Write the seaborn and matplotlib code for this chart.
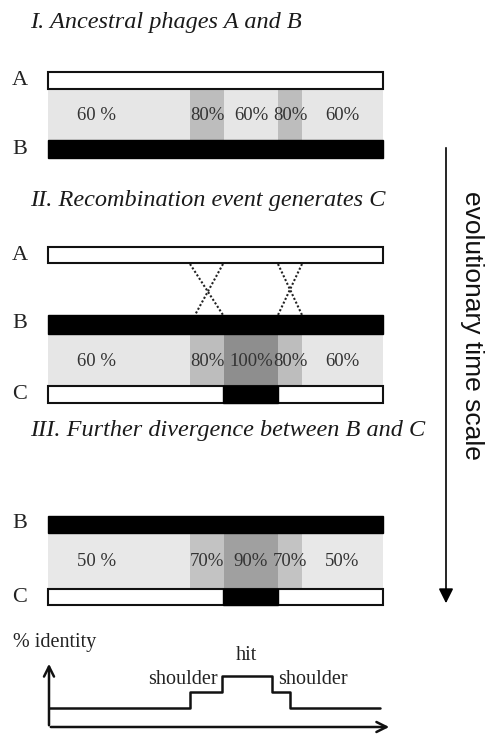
import matplotlib
matplotlib.use("Agg")
import matplotlib.pyplot as plt
import pandas as pd
import seaborn as sns

# genome segments along the phage (same breakpoints in every panel)
seg_edges = [48, 190, 224, 278, 302, 383]
ident_I = [60, 80, 60, 80, 60]
ident_II = [60, 80, 100, 80, 60]
ident_III = [50, 70, 90, 70, 50]
# region of C that came from B by recombination
c_block = [223, 278]
# crossover points (A side -> B side)
cross_top = [190, 223, 278, 302]
cross_bottom = [223, 195, 302, 278]

# % identity -> grey shade
shade = {50: "#e8e8e8", 60: "#e6e6e6", 70: "#c3c3c3", 80: "#bdbdbd",
         90: "#a0a0a0", 100: "#8e8e8e"}

# schematic identity profile at the bottom
profile_edges = [49, 190, 222, 272, 290, 380]
profile_level = [0, 1, 2, 1, 0]
profile_names = ["shoulder", "hit", "shoulder"]

titles = ["I. Ancestral phages A and B",
          "II. Recombination event generates C",
          "III. Further divergence between B and C"]

sns.set_theme(style="white")
plt.rcParams["font.family"] = ["Liberation Serif", "DejaVu Serif"]

fig = plt.figure(figsize=(4.88, 7.35), dpi=100)
ax = fig.add_axes([0, 0, 1, 1])
ax.set_xlim(0, 488)
ax.set_ylim(735, 0)
ax.axis("off")

x0, x1 = seg_edges[0], seg_edges[-1]
serif_it = dict(family=["Liberation Serif", "DejaVu Serif"], style="italic", fontsize=17.5, color="#1a1a1a")
lab_kw = dict(fontsize=16, ha="center", va="center", color="#222222")
pct_kw = dict(fontsize=13.5, ha="center", va="center", color="#333333")
note_kw = dict(fontsize=14.5, va="center", color="#222222")


def genome(top, bottom, kind, block=None):
    h = bottom - top
    y = (top + bottom) / 2
    if kind == "white":
        ax.barh(y, x1 - x0, left=x0, height=h, color="white", edgecolor="#111111", linewidth=1.5)
    else:
        ax.barh(y, x1 - x0, left=x0, height=h, color="black", edgecolor="black", linewidth=1.0)
    if block is not None:
        ax.barh(y, block[1] - block[0], left=block[0], height=h, color="black", edgecolor="black", linewidth=1.0)


def band(top, bottom, idents):
    y = (top + bottom) / 2
    for i, v in enumerate(idents):
        l, r = seg_edges[i], seg_edges[i + 1]
        ax.barh(y, r - l, left=l, height=bottom - top, color=shade[v], linewidth=0)
        if i == 0:
            ax.text(l + (r - l) * 0.34, y + 1, f"{v} %", **pct_kw)
        else:
            ax.text((l + r) / 2, y + 1, f"{v}%", **pct_kw)


# Panel I
ax.text(30, 22, titles[0], va="center", **serif_it)
band(89, 140, ident_I)
genome(72, 89, "white")
genome(140, 158, "black")
ax.text(20, 80, "A", **lab_kw)
ax.text(20, 149, "B", **lab_kw)

# Panel II
ax.text(30, 200, titles[1], va="center", **serif_it)
genome(247, 263, "white")
for t, b in zip(cross_top, cross_bottom):
    ax.plot([t, b], [264, 315], ls=(0, (1.0, 1.0)), color="#222222", lw=1.5)
band(334, 386, ident_II)
genome(315, 334, "black")
genome(386, 403, "white", block=c_block)
ax.text(20, 255, "A", **lab_kw)
ax.text(20, 323, "B", **lab_kw)
ax.text(20, 394, "C", **lab_kw)

# Panel III
ax.text(30, 430, titles[2], va="center", **serif_it)
band(533, 589, ident_III)
genome(516, 533, "black")
genome(589, 605, "white", block=c_block)
ax.text(20, 524, "B", **lab_kw)
ax.text(20, 598, "C", **lab_kw)

# evolutionary time arrow
ax.annotate("", xy=(446, 606), xytext=(446, 145),
            arrowprops=dict(arrowstyle="-|>", color="black", lw=1.2, mutation_scale=22))
ax.text(472, 325, "evolutionary time scale", rotation=270, ha="center", va="center",
        family=["Liberation Sans", "DejaVu Sans"], fontsize=19, color="#111111")

# identity profile
prof = pd.DataFrame({"x": profile_edges,
                     "y": [708 - 16 * v for v in profile_level + [profile_level[-1]]]})
sns.lineplot(data=prof, x="x", y="y", drawstyle="steps-post", color="#111111", lw=1.8, ax=ax)
ax.set_xlim(0, 488)
ax.set_ylim(735, 0)
ax.annotate("", xy=(49, 661), xytext=(49, 728),
            arrowprops=dict(arrowstyle="->", color="#111111", lw=1.8, mutation_scale=18))
ax.annotate("", xy=(392, 727), xytext=(48, 727),
            arrowprops=dict(arrowstyle="->", color="#111111", lw=1.8, mutation_scale=18))
ax.text(13, 642, "% identity", ha="left", **note_kw)
ax.text(183, 680, profile_names[0], ha="center", **note_kw)
ax.text(246, 656, profile_names[1], ha="center", **note_kw)
ax.text(313, 680, profile_names[2], ha="center", **note_kw)
ax.set_xlabel("")
ax.set_ylabel("")

fig.savefig("out.png", dpi=100)
